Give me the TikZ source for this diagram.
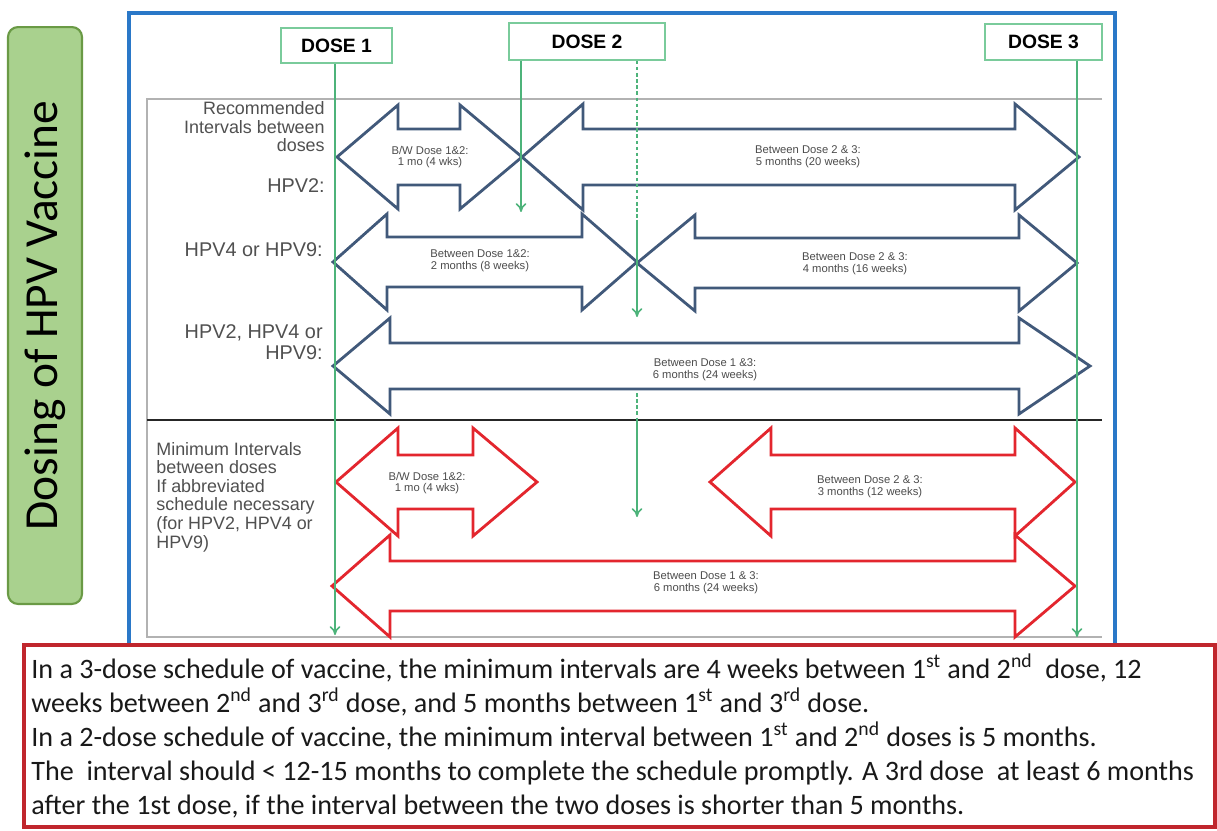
\documentclass[tikz,border=0pt]{standalone}
\usepackage{fontspec}
\setmainfont{Carlito}
\newfontfamily\arialfont{Liberation Sans}
\usepackage{tikz}
\usetikzlibrary{arrows.meta,positioning}

\definecolor{hpvblue}{HTML}{41597A}
\definecolor{hpvred}{HTML}{E3262E}
\definecolor{hpvgreen}{HTML}{4DB37A}
\definecolor{boxgreen}{HTML}{7ACB9B}
\definecolor{framblue}{HTML}{2A78C8}
\definecolor{titlefill}{HTML}{A9D18E}
\definecolor{titleedge}{HTML}{6A9A45}
\definecolor{notered}{HTML}{C0262D}
\definecolor{lblgray}{HTML}{505050}

% double-headed interval arrow: style, left tip, left shoulder, right shoulder, right tip, centre y, head half, shaft half
\newcommand{\intervalarrow}[8]{%
  \draw[#1] (#2,#6) -- (#3,#6-#7) -- (#3,#6-#8) -- (#4,#6-#8) -- (#4,#6-#7)
    -- (#5,#6) -- (#4,#6+#7) -- (#4,#6+#8) -- (#3,#6+#8) -- (#3,#6+#7) -- cycle;}

\begin{document}
\begin{tikzpicture}[x=0.02cm,y=-0.02cm,line join=miter,
  >={To[length=5pt,width=6pt]},
  dosebox/.style={draw=boxgreen,line width=0.8pt,fill=white,inner sep=0pt,
    font=\arialfont\bfseries\fontsize{11}{12}\selectfont},
  doseline/.style={draw=hpvgreen,line width=0.9pt},
  recarrow/.style={draw=hpvblue,line width=1.6pt},
  minarrow/.style={draw=hpvred,line width=1.6pt},
  armtext/.style={align=center,inner sep=0pt,text=black!70,
    font=\arialfont\fontsize{6.4}{6.6}\selectfont},
  lbl/.style={align=right,inner sep=0pt,text=lblgray,
    font=\arialfont\fontsize{10.2}{10.5}\selectfont},
  hpvlbl/.style={align=right,inner sep=0pt,text=lblgray,
    font=\arialfont\fontsize{11.3}{11.6}\selectfont},
  titlebox/.style={draw=titleedge,fill=titlefill,line width=1.2pt,rounded corners=0.2cm,
    rotate=90,minimum width=11.54cm,minimum height=1.48cm,
    font=\fontsize{27}{30}\selectfont}]

  \useasboundingbox[fill=white] (0,0) rectangle (1217,831);

  % frames
  \draw[framblue,line width=1.8pt] (129,13) rectangle (1115,645);
  \draw[gray!60,line width=0.8pt] (1102,99) -- (147,99) -- (147,637) -- (1102,637);
  \draw[black!85,line width=1.7pt] (147,420) -- (1102,420);

  % title
  \node[titlebox] (title) at (45,315.5) {Dosing of HPV Vaccine};

  % doses
  \node[dosebox,minimum width=2.22cm,minimum height=0.70cm] (d1) at (336.5,45.5) {DOSE 1};
  \node[dosebox,minimum width=3.12cm,minimum height=0.74cm] (d2) at (587,41.5) {DOSE 2};
  \node[dosebox,minimum width=2.34cm,minimum height=0.72cm] (d3) at (1043.5,42) {DOSE 3};

  % recommended intervals
  \intervalarrow{recarrow}{337}{398}{460}{522}{157}{52}{28}
  \intervalarrow{recarrow}{522}{583}{1015}{1079}{157}{53}{28}
  \intervalarrow{recarrow}{333}{387}{582}{637}{262}{48}{25}
  \intervalarrow{recarrow}{637}{695}{1019}{1077}{263}{48}{25}
  \intervalarrow{recarrow}{333}{390}{1019}{1090}{366}{48}{23}

  % minimum intervals
  \intervalarrow{minarrow}{336}{398}{473}{537}{482}{54}{27}
  \intervalarrow{minarrow}{710}{771}{1015}{1075}{482}{54}{27}
  \intervalarrow{minarrow}{332}{390}{1015}{1075}{586}{51}{25}

  \node[armtext] (tA) at (430,157) {B/W Dose 1\&2:\\1 mo (4 wks)};
  \node[armtext] (tB) at (808,157) {Between Dose 2 \& 3:\\5 months (20 weeks)};
  \node[armtext] (tC) at (480,261) {Between Dose 1\&2:\\2 months (8 weeks)};
  \node[armtext] (tD) at (855,264) {Between Dose 2 \& 3:\\4 months (16 weeks)};
  \node[armtext] (tE) at (705,370) {Between Dose 1 \&3:\\6 months (24 weeks)};
  \node[armtext] (tF) at (427,483) {B/W Dose 1\&2:\\1 mo (4 wks)};
  \node[armtext] (tH) at (870,487) {Between Dose 2 \& 3:\\3 months (12 weeks)};
  \node[armtext] (tG) at (706,583) {Between Dose 1 \& 3:\\6 months (24 weeks)};

  % row labels
  \node[lbl,anchor=east] (rec) at (325,127) {Recommended\\Intervals between\\doses};
  \node[hpvlbl,anchor=east] (l2) at (325,186) {HPV2:};
  \node[hpvlbl,anchor=east] (l49) at (323,250) {HPV4 or HPV9:};
  \node[hpvlbl,anchor=east] (l249) at (323,342) {HPV2, HPV4 or\\HPV9:};
  \node[lbl,align=left,anchor=west,font=\arialfont\fontsize{10.2}{10.6}\selectfont] (mini) at (156,497)
    {Minimum Intervals\\between doses\\If abbreviated\\schedule necessary\\(for HPV2, HPV4 or\\HPV9)};

  % dose time lines
  \coordinate (e1) at (335,635);
  \coordinate (e2a) at (521,212);
  \coordinate (e2b) at (637,220);
  \coordinate (e2c) at (637,317);
  \coordinate (e2d) at (637,393);
  \coordinate (e2e) at (637,418);
  \coordinate (e2f) at (637,517);
  \coordinate (e3) at (1077,637);
  \draw[doseline,->] (d1.south -| e1) -- (e1);
  \draw[doseline,->] (d2.south -| e2a) -- (e2a);
  \draw[doseline,dash pattern=on 2pt off 1.5pt] (d2.south -| e2b) -- (e2b);
  \draw[doseline,->] (e2b) -- (e2c);
  \draw[doseline,dash pattern=on 2pt off 1.5pt] (e2d) -- (e2e);
  \draw[doseline,->] (e2e) -- (e2f);
  \draw[doseline,->] (d3.south -| e3) -- (e3);

  % note
  \draw[notered,line width=1.8pt,fill=white] (24,645) rectangle (1215,827);
  \node[anchor=north west,align=left,inner sep=0pt,text=black!90,
    font=\fontsize{16}{19.4}\selectfont] (note) at (31,653)
    {In a 3-dose schedule of vaccine, the minimum intervals are 4 weeks between 1\textsuperscript{st} and 2\textsuperscript{nd}\ \ dose, 12\\
     weeks between 2\textsuperscript{nd} and 3\textsuperscript{rd} dose, and 5 months between 1\textsuperscript{st} and 3\textsuperscript{rd} dose.\\
     In a 2-dose schedule of vaccine, the minimum interval between 1\textsuperscript{st} and 2\textsuperscript{nd} doses is 5 months.\\
     The\ \ interval should < 12-15 months to complete the schedule promptly. A 3rd dose\ \ at least 6 months\\
     after the 1st dose, if the interval between the two doses is shorter than 5 months.};
\end{tikzpicture}
\end{document}
